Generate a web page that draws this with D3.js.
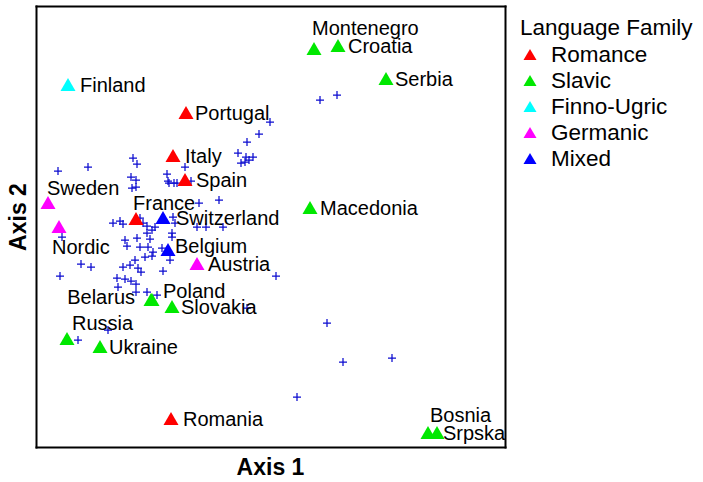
<!DOCTYPE html>
<html>
<head>
<meta charset="utf-8">
<script src="https://cdn.jsdelivr.net/npm/d3@7"></script>
<style>
  html, body { margin: 0; padding: 0; background: #fff; }
  svg { display: block; font-family: Arial, "Liberation Sans", Helvetica, sans-serif; }
</style>
</head>
<body>
<svg id="chart" width="703" height="482"></svg>
<script>
// ---- data ----
const families = ["Romance", "Slavic", "Finno-Ugric", "Germanic", "Mixed"];
const familyColors = ["#ff0000", "#00e800", "#00ffff", "#ff00ff", "#0000ff"];

const countries = ["Belarus", "Finland", "Portugal", "Italy", "Spain", "Sweden", "Nordic", "France",
  "Switzerland", "Belgium", "Austria", "Poland", "Slovakia", "Russia", "Ukraine", "Romania",
  "Bosnia", "Srpska", "Macedonia", "Montenegro", "Croatia", "Serbia"];
const countryFamily = ["Slavic", "Finno-Ugric", "Romance", "Romance", "Romance", "Germanic", "Germanic", "Romance",
  "Mixed", "Mixed", "Germanic", "Slavic", "Slavic", "Slavic", "Slavic", "Romance",
  "Slavic", "Slavic", "Slavic", "Slavic", "Slavic", "Slavic"];
const countryAxis1 = [-0.49, -1.32, -0.14, -0.27, -0.15, -1.52, -1.41, -0.64,
  -0.37, -0.32, -0.03, -0.48, -0.28, -1.33, -1.00, -0.29,
  2.28, 2.37, 1.10, 1.14, 1.38, 1.86];
const countryAxis2 = [-0.80, 1.35, 1.07, 0.64, 0.40, 0.17, -0.07, 0.01,
  0.02, -0.30, -0.44, -0.80, -0.87, -1.19, -1.27, -1.99,
  -2.13, -2.13, 0.12, 1.71, 1.74, 1.41];

const sampleAxis1 = [1.20, 1.37, 0.70, 0.59, 0.47, 0.38, 0.46, 0.53, 0.41, 0.45, 0.49,
  -0.67, -0.63, -1.42, -1.12, -0.69, -0.64, -0.68, -0.64, -0.33, -0.31, -0.26, -0.23,
  -0.15, -0.09, 0.19, -0.01, -0.87, -0.80, -0.77, -0.60, -0.57, -0.53, -0.45, -0.48,
  -0.27, -0.25, -0.03, 0.06, 0.23, -0.53, -0.50, -0.28, -0.28, -0.75, -0.73, -0.63,
  -0.60, -0.52, -0.47, -0.48, -0.55, -0.65, -1.38, -1.19, -1.09, -1.40, -0.70, -0.77,
  -0.62, -0.59, -0.37, -0.83, -0.75, -0.69, -0.64, -0.82, -0.64, -0.53, -0.43, 0.76,
  0.47, -0.92, -1.22, 1.27, 1.43, 1.92, 0.97, -0.30, -0.38, -0.32];
const sampleAxis2 = [1.20, 1.25, 0.98, 0.86, 0.78, 0.67, 0.63, 0.63, 0.57, 0.58, 0.60,
  0.62, 0.56, 0.49, 0.53, 0.43, 0.40, 0.32, 0.33, 0.46, 0.37, 0.37, 0.37,
  0.53, 0.39, 0.20, 0.17, -0.03, -0.01, -0.04, 0.02, -0.03, -0.06, -0.07, -0.10,
  0.03, -0.03, -0.07, -0.07, -0.07, -0.13, -0.19, -0.13, -0.17, -0.20, -0.26, -0.18,
  -0.27, -0.27, -0.32, -0.36, -0.37, -0.40, -0.17, -0.44, -0.47, -0.56, -0.45, -0.47,
  -0.48, -0.52, -0.51, -0.58, -0.59, -0.61, -0.64, -0.67, -0.72, -0.72, -0.75, -0.56,
  -0.88, -1.10, -1.20, -1.03, -1.42, -1.38, -1.77, -0.40, -0.28, 0.39];

const xTitle = "Axis 1";
const yTitle = "Axis 2";
const legendTitle = "Language Family";

// ---- layout (label offsets in px: dx, dy, anchor) ----
const labelLayout = {
  "Belarus": [-16, -3, "end"], "Finland": [12, 0, "start"], "Portugal": [9, 0, "start"],
  "Italy": [12, 0, "start"], "Spain": [11, 0, "start"], "Sweden": [-1, -15, "start"],
  "Nordic": [-7, 20, "start"], "France": [-3, -16, "start"], "Switzerland": [13, 0, "start"],
  "Belgium": [7, -4, "start"], "Austria": [11, 0, "start"], "Poland": [11, -9, "start"],
  "Slovakia": [9, 0, "start"], "Russia": [5, -16, "start"], "Ukraine": [9, 0, "start"],
  "Romania": [12, 0, "start"], "Bosnia": [2, -18, "start"], "Srpska": [6, 0, "start"],
  "Macedonia": [10, 0, "start"], "Montenegro": [-2, -21, "start"], "Croatia": [10, 0, "start"],
  "Serbia": [9, 0, "start"]
};

const svg = d3.select("#chart");
const pLeft = 36, pRight = 505, pTop = 6, pBottom = 447;

const x = d3.scaleLinear().domain([-1.64, 3.05]).range([pLeft, pRight]);
const y = d3.scaleLinear().domain([-2.27, 2.14]).range([pBottom, pTop]);
const color = d3.scaleOrdinal().domain(families).range(familyColors);

// axes without ticks (frame only)
const axisG = svg.append("g");
axisG.append("g").attr("transform", `translate(0,${pBottom})`).call(d3.axisBottom(x).tickValues([]).tickSizeOuter(0));
axisG.append("g").attr("transform", `translate(${pLeft},0)`).call(d3.axisLeft(y).tickValues([]).tickSizeOuter(0));
axisG.append("g").attr("transform", `translate(0,${pTop})`).call(d3.axisTop(x).tickValues([]).tickSizeOuter(0));
axisG.append("g").attr("transform", `translate(${pRight},0)`).call(d3.axisRight(y).tickValues([]).tickSizeOuter(0));
axisG.selectAll(".domain").attr("stroke", "#000").attr("stroke-width", 2).attr("stroke-linecap", "square");

// plus markers
const samples = sampleAxis1.map((v, i) => ({ a1: v, a2: sampleAxis2[i] }));
svg.append("g").selectAll("path").data(samples).join("path")
  .attr("transform", d => `translate(${x(d.a1)},${y(d.a2)})`)
  .attr("d", "M-4,0H4M0,-4V4")
  .attr("stroke", "#0c0cd0").attr("stroke-width", 1.25).attr("fill", "none");

// triangles
const tri = "M0,-7L7.5,6L-7.5,6Z";
const cdata = countries.map((c, i) => ({ name: c, fam: countryFamily[i], a1: countryAxis1[i], a2: countryAxis2[i] }));
svg.append("g").selectAll("path").data(cdata).join("path")
  .attr("transform", d => `translate(${x(d.a1)},${y(d.a2)})`)
  .attr("d", tri)
  .attr("fill", d => color(d.fam));

// labels
svg.append("g").selectAll("text").data(cdata).join("text")
  .attr("x", d => x(d.a1) + labelLayout[d.name][0])
  .attr("y", d => y(d.a2) + labelLayout[d.name][1])
  .attr("dy", "0.36em")
  .attr("text-anchor", d => labelLayout[d.name][2])
  .attr("font-size", 20)
  .attr("fill", "#000")
  .text(d => d.name);

// axis titles
svg.append("text").attr("x", (pLeft + pRight) / 2).attr("y", 467).attr("dy", "0.36em")
  .attr("text-anchor", "middle").attr("font-size", 23).attr("font-weight", "bold").text(xTitle);
svg.append("text").attr("transform", `translate(18,217) rotate(-90)`)
  .attr("dy", "0.36em").attr("text-anchor", "middle").attr("font-size", 23).attr("font-weight", "bold").text(yTitle);

// legend
const lg = svg.append("g").attr("transform", "translate(520,0)");
lg.append("text").attr("x", 0).attr("y", 27).attr("dy", "0.36em").attr("font-size", 22.5).text(legendTitle);
const items = lg.selectAll("g.item").data(families).join("g").attr("class", "item")
  .attr("transform", (d, i) => `translate(0,${54 + i * 26})`);
items.append("path").attr("transform", "translate(10,1)").attr("d", "M0,-6L6.5,5L-6.5,5Z").attr("fill", d => color(d));
items.append("text").attr("x", 31).attr("y", 0).attr("dy", "0.36em").attr("font-size", 22.5).text(d => d);
</script>
</body>
</html>
